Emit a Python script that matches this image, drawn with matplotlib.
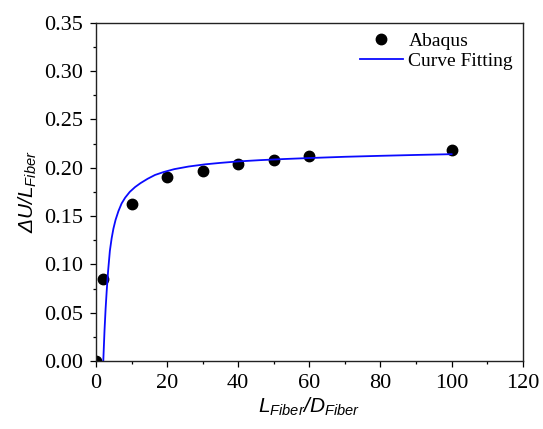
import matplotlib
matplotlib.use("Agg")
import matplotlib.pyplot as plt
from matplotlib.ticker import MultipleLocator, FormatStrFormatter

plt.rcParams['mathtext.fontset'] = 'custom'
plt.rcParams['mathtext.rm'] = 'Liberation Sans:italic'
plt.rcParams['mathtext.it'] = 'Liberation Sans:italic'
plt.rcParams['mathtext.default'] = 'it'

# Abaqus data points
abaqus_x = [0, 2, 10, 20, 30, 40, 50, 60, 100]
abaqus_y = [0.000, 0.085, 0.162, 0.190, 0.197, 0.204, 0.208, 0.212, 0.218]

# Curve fitting line
fit_x = [2.05, 2.2, 2.4, 2.7, 3.0, 3.4, 3.9, 4.4, 4.9, 5.5, 6.3, 7.2, 8.2, 9.5,
         11.0, 12.5, 14.5, 16.6, 19, 22, 26, 30.7, 35, 40, 46, 53, 60, 70, 80,
         90, 100]
fit_y = [0.000, 0.014, 0.032, 0.054, 0.072, 0.093, 0.114, 0.127, 0.137, 0.146,
         0.155, 0.163, 0.169, 0.175, 0.180, 0.184, 0.1885, 0.1925, 0.1955,
         0.1985, 0.2012, 0.2035, 0.2050, 0.2065, 0.2078, 0.2090, 0.2100,
         0.2113, 0.2123, 0.2132, 0.2140]

fig = plt.figure(figsize=(5.43, 4.29), dpi=100)
ax = fig.add_axes([0.1768, 0.1585, 0.7858, 0.7885])

ax.plot(abaqus_x, abaqus_y, 'o', color='black', markersize=7.5, label='Abaqus')
ax.plot(fit_x, fit_y, '-', color='#0a0aff', linewidth=1.3, label='Curve Fitting')

ax.set_xlim(0, 120)
ax.set_ylim(0, 0.35)
ax.xaxis.set_major_locator(MultipleLocator(20))
ax.xaxis.set_minor_locator(MultipleLocator(10))
ax.yaxis.set_major_locator(MultipleLocator(0.05))
ax.yaxis.set_minor_locator(MultipleLocator(0.025))
ax.yaxis.set_major_formatter(FormatStrFormatter('%.2f'))

ax.tick_params(which='major', direction='out', length=4.3, width=0.9, pad=5,
               labelsize=16, top=False, right=False)
ax.tick_params(which='minor', direction='out', length=2.2, width=0.9,
               top=False, right=False)
for lab in ax.get_xticklabels() + ax.get_yticklabels():
    lab.set_fontfamily('Liberation Serif')
for sp in ax.spines.values():
    sp.set_linewidth(1.0)
    sp.set_color('#222222')

ax.set_xlabel(r'$L_{Fiber}/D_{Fiber}$', fontsize=15, labelpad=2)
ax.set_ylabel(r'$\Delta U/L_{Fiber}$', fontsize=15, labelpad=4)

leg = ax.legend(loc='upper right', frameon=False,
                prop={'family': 'Liberation Serif', 'size': 14},
                handlelength=2.2, handletextpad=0.3, borderaxespad=0.3,
                labelspacing=0.1, borderpad=0.2)

fig.savefig('out.png', dpi=100)
